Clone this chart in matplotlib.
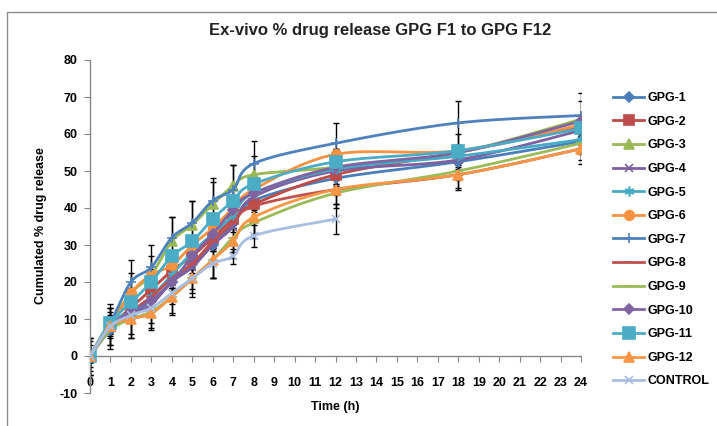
import numpy as np
import matplotlib
matplotlib.use("Agg")
import matplotlib.pyplot as plt
from matplotlib.patches import Rectangle

plt.rcParams['font.family'] = ['Liberation Sans', 'DejaVu Sans']
plt.rcParams['axes.unicode_minus'] = False

TITLE = "Ex-vivo % drug release GPG F1 to GPG F12"
XLABEL = "Time (h)"
YLABEL = "Cumulated % drug release"

time = [0, 1, 2, 3, 4, 5, 6, 7, 8, 12, 18, 24]
time_control = [0, 1, 2, 3, 4, 5, 6, 7, 8, 12]

gpg1 = [0, 7, 11, 15, 20, 25, 30, 36, 42, 48, 52.5, 58]
gpg2 = [0, 8, 13, 18, 23, 27, 32, 37, 41, 49, 55, 62]
gpg3 = [0, 9, 17, 22, 31, 35.5, 41, 46, 49, 51, 55, 64]
gpg4 = [0, 8, 11, 14, 20, 24, 30, 35, 43, 50, 53, 61]
gpg5 = [0, 9, 12, 16, 22, 28, 33, 38, 44, 50.5, 54, 58.5]
gpg6 = [0, 8, 17, 22, 24.5, 30, 34.5, 40, 45, 54.5, 55.5, 62.5]
gpg7 = [0, 9, 20, 24, 32, 36, 42, 45, 52, 57.5, 63, 65]
gpg8 = [0, 8, 12, 16, 21, 25, 31, 36, 40.5, 45, 49, 56]
gpg9 = [0, 7, 10, 12, 16, 21, 26, 32, 36, 44, 50, 57.5]
gpg10 = [0, 8, 12, 15, 20, 27, 33, 39.5, 44, 51, 55, 63.5]
gpg11 = [0, 9, 14.5, 20, 27, 31, 37, 42, 46.5, 52.5, 55.5, 61.5]
gpg12 = [0, 8, 10, 11.5, 16, 21, 26, 31, 37.5, 45, 49, 56]
control = [0, 8, 11, 13, 17, 21, 25, 27, 32.5, 37]

err_small = [1.5, 1.5, 1.5, 1.5, 1.5, 1.5, 1.5, 1.5, 1.5, 1.5, 1.5, 1.5]
err7 = [5, 3, 6, 6, 5.5, 6, 6, 6.5, 6, 5.5, 6, 6]
err3 = [3, 4, 5.5, 5, 6.5, 6.5, 6, 5.5, 5, 5, 5, 5]
err12 = [5, 5, 5, 4, 4.5, 4, 5, 4.5, 4.5, 4, 4, 4]
err9 = [4, 4, 5, 5, 5, 5, 5, 4, 4, 4, 4.5, 4.5]
err_control = [5, 6, 5, 4, 3, 3, 4, 2, 3, 4]

labels = ["GPG-1", "GPG-2", "GPG-3", "GPG-4", "GPG-5", "GPG-6", "GPG-7",
          "GPG-8", "GPG-9", "GPG-10", "GPG-11", "GPG-12", "CONTROL"]
series = [gpg1, gpg2, gpg3, gpg4, gpg5, gpg6, gpg7, gpg8, gpg9, gpg10, gpg11, gpg12, control]
errors = [err_small, err_small, err3, err_small, err_small, err_small, err7,
          err_small, err9, err_small, err_small, err12, err_control]
colors = ["#4A7EBB", "#BE4B48", "#98B954", "#7D60A0", "#46AAC5", "#F69240", "#4F81BD",
          "#C0504D", "#9BBB59", "#8064A2", "#4BACC6", "#F79646", "#A9BDE0"]
markers = ["D", "s", "^", "x", (6, 2, 0), "o", "+", "_", "_", "D", "s", "^", "x"]
msizes = [5, 7, 7, 6, 7, 7, 7, 7, 7, 5, 8, 7, 6]

W, H = 717, 426
fig = plt.figure(figsize=(W / 100, H / 100), dpi=100)
L, R, T, B = 90, 581, 60, 393
ax = fig.add_axes([L / W, 1 - B / H, (R - L) / W, (B - T) / H])
ax.set_xlim(0, 24)
ax.set_ylim(-10, 80)

sx = (R - L) / 24.0
sy = (B - T) / 90.0
N = 20


def smooth(xs, ys):
    P = np.column_stack([np.asarray(xs, float) * sx, np.asarray(ys, float) * sy])
    n = len(P)
    out = [P[0]]
    for i in range(n - 1):
        p0 = P[i - 1] if i > 0 else P[i]
        p1 = P[i]
        p2 = P[i + 1]
        p3 = P[i + 2] if i + 2 < n else P[i + 1]
        c1 = p1 + (p2 - p0) / 6.0
        c2 = p2 - (p3 - p1) / 6.0
        t = np.linspace(0, 1, N + 1)[1:, None]
        seg = ((1 - t) ** 3) * p1 + 3 * ((1 - t) ** 2) * t * c1 + 3 * (1 - t) * t ** 2 * c2 + t ** 3 * p2
        out.extend(seg)
    out = np.array(out)
    return out[:, 0] / sx, out[:, 1] / sy


for lab, ys, er, c, m, ms in zip(labels, series, errors, colors, markers, msizes):
    xs = time if len(ys) == len(time) else time_control
    ax.errorbar(xs, ys, yerr=er, fmt='none', ecolor='black', elinewidth=1.0,
                capsize=2.5, capthick=1.0, zorder=2)
    cx, cy = smooth(xs, ys)
    ax.plot(cx, cy, color=c, lw=2.0, marker=m, markersize=ms,
            markevery=[i * N for i in range(len(xs))],
            markeredgecolor=c, markerfacecolor=c, markeredgewidth=1.2,
            label=lab, zorder=3)

for s in ['top', 'right']:
    ax.spines[s].set_visible(False)
ax.spines['bottom'].set_position(('data', 0))
ax.spines['left'].set_position(('data', 0))
for s in ['bottom', 'left']:
    ax.spines[s].set_color('#868686')
    ax.spines[s].set_linewidth(1.0)

ax.set_xticks(range(0, 25))
ax.set_yticks(range(-10, 81, 10))
ax.tick_params(axis='x', direction='out', length=4, color='#868686', pad=11,
               labelsize=9)
ax.tick_params(axis='y', direction='out', length=4, color='#868686', pad=5,
               labelsize=9)
for lbl in ax.get_xticklabels() + ax.get_yticklabels():
    lbl.set_fontweight('bold')

fig.text(335 / W, 1 - 407 / H, XLABEL, ha='center', va='center',
         fontsize=9, fontweight='bold')
fig.text(41 / W, 1 - 226 / H, YLABEL, ha='center', va='center',
         rotation=90, fontsize=9, fontweight='bold')
fig.text(380 / W, 1 - 30 / H, TITLE, ha='center', va='center',
         fontsize=12, fontweight='bold', color='#222222')

fig.legend(loc='upper left', bbox_to_anchor=(608 / W, 1 - 87 / H),
           frameon=False, prop={'weight': 'bold', 'size': 9},
           handlelength=2.5, labelspacing=0.93, handletextpad=0.3,
           borderaxespad=0)

fig.patches.append(Rectangle((7 / W, -0.1), 1.2, 1 - 12 / H + 0.1,
                             transform=fig.transFigure, fill=False,
                             edgecolor='#8c8c8c', lw=1.0))

fig.savefig("out.png", dpi=100)
